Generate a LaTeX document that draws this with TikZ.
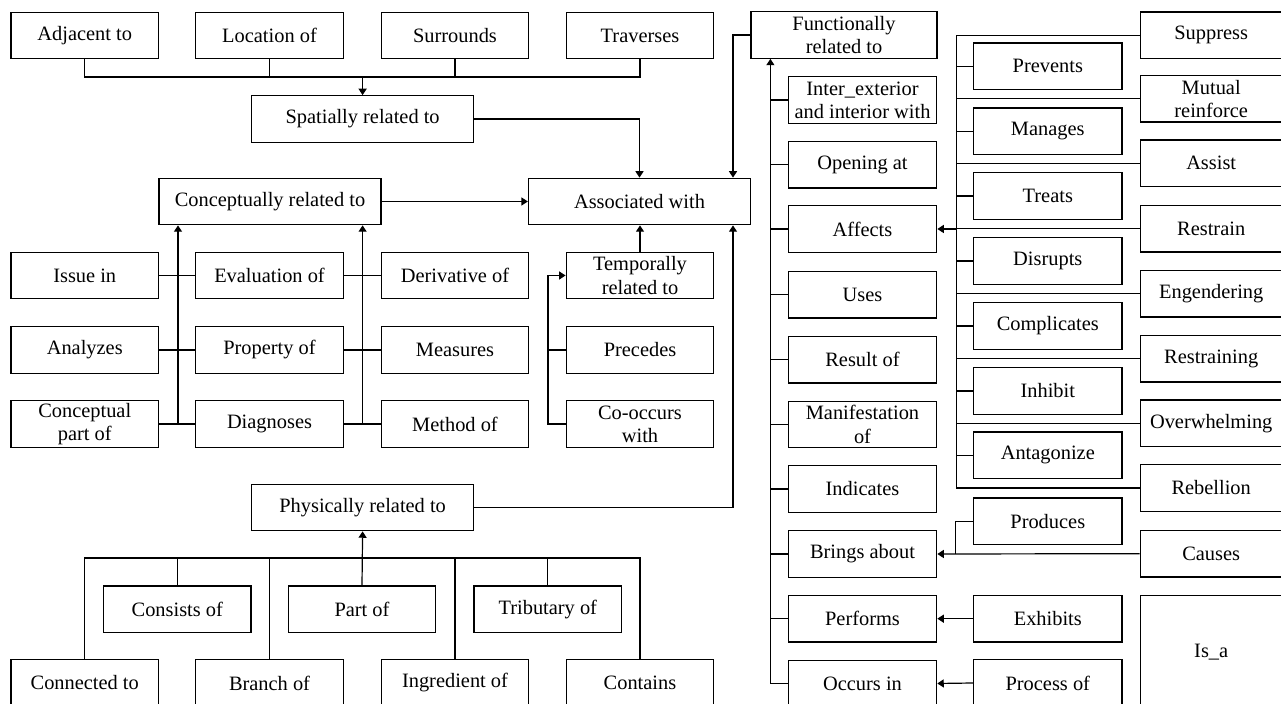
\documentclass[tikz,border=0pt]{standalone}
\usepackage{fontspec}
\setmainfont{Liberation Serif}
\usetikzlibrary{arrows.meta}
\begin{document}
\begin{tikzpicture}[x=0.5pt,y=-0.5pt,
  bx/.style={draw, line width=0.65pt, inner sep=0pt, align=center,
    font=\fontsize{10.2pt}{11.6pt}\selectfont, minimum height=23.2pt},
  gw/.style={bx, minimum width=73.8pt},
  ww/.style={bx, minimum width=111pt},
  fw/.style={bx, minimum width=93pt},
  aw/.style={bx, minimum width=74.2pt},
  cw/.style={bx, minimum width=70.9pt},
  ln/.style={line width=0.6pt},
  ar/.style={ln, -{Triangle[length=3.2pt,width=4pt]}}]
\useasboundingbox (0,0) rectangle (1281,704);
% top row
\node[gw] (adj)  at (84.75,35.5) {Adjacent to};
\node[gw] (loc)  at (269.5,35.5) {Location of};
\node[gw] (sur)  at (455,35.5) {Surrounds};
\node[gw] (trav) at (640,35.5) {Traverses};
\node[fw] (func) at (844,35) {Functionally\\related to};
\node[ww] (spat) at (362.6,119) {Spatially related to};
\node[ww] (concept) at (270,201.5) {Conceptually related to};
\node[ww] (assoc) at (639.5,201.5) {Associated with};
% grid
\node[gw] (issue) at (84.75,275.5) {Issue in};
\node[gw] (eval)  at (269.5,275.5) {Evaluation of};
\node[gw] (deriv) at (455,275.5) {Derivative of};
\node[gw] (temp)  at (640,275.5) {Temporally\\related to};
\node[gw] (analyz) at (84.75,350) {Analyzes};
\node[gw] (prop)   at (269.5,350) {Property of};
\node[gw] (meas)   at (455,350) {Measures};
\node[gw] (prec)   at (640,350) {Precedes};
\node[gw] (cpart)  at (84.75,424) {Conceptual\\part of};
\node[gw] (diag)   at (269.5,424) {Diagnoses};
\node[gw] (meth)   at (455,424) {Method of};
\node[gw] (cooc)   at (640,424) {Co-occurs\\with};
% physical
\node[ww] (phys) at (362.6,507.5) {Physically related to};
\node[gw] (cons) at (177.3,609.3) {Consists of};
\node[gw] (part) at (362,609.3) {Part of};
\node[gw] (trib) at (547.8,609.3) {Tributary of};
\node[gw] (conn) at (84.75,683) {Connected to};
\node[gw] (branch) at (269.5,683) {Branch of};
\node[gw] (ingr) at (455,683) {Ingredient of};
\node[gw] (cont) at (640,683) {Contains};
% column A
\node[aw] (inter) at (862.5,100) {Inter\_exterior\\and interior with};
\node[aw] (open) at (862.5,164.7) {Opening at};
\node[aw] (affects) at (862.5,229) {Affects};
\node[aw] (uses) at (862.5,294.7) {Uses};
\node[aw] (result) at (862.5,359.7) {Result of};
\node[aw] (manif) at (862.5,424.5) {Manifestation\\of};
\node[aw] (indic) at (862.5,489) {Indicates};
\node[aw] (brings) at (862.5,554) {Brings about};
\node[aw] (perf) at (862.5,618.7) {Performs};
\node[aw] (occ) at (862.5,683.5) {Occurs in};
% column B
\node[aw] (prev) at (1047.8,66.3) {Prevents};
\node[aw] (manage) at (1047.8,131.3) {Manages};
\node[aw] (treats) at (1047.8,196) {Treats};
\node[aw] (disr) at (1047.8,261) {Disrupts};
\node[aw] (compl) at (1047.8,326) {Complicates};
\node[aw] (inhib) at (1047.8,391) {Inhibit};
\node[aw] (antag) at (1047.8,455.3) {Antagonize};
\node[aw] (prod) at (1047.8,521.3) {Produces};
\node[aw] (exhib) at (1047.8,618.7) {Exhibits};
\node[aw] (procof) at (1047.8,683) {Process of};
% column C
\node[cw] (supp) at (1211.2,35.3) {Suppress};
\node[cw] (mutual) at (1211.2,98.7) {Mutual\\reinforce};
\node[cw] (assist) at (1211.2,163.3) {Assist};
\node[cw] (restrain) at (1211.2,228.7) {Restrain};
\node[cw] (engend) at (1211.2,293.7) {Engendering};
\node[cw] (restrng) at (1211.2,358.7) {Restraining};
\node[cw] (overwh) at (1211.2,423.3) {Overwhelming};
\node[cw] (rebel) at (1211.2,488) {Rebellion};
\node[cw] (causes) at (1211.2,553.7) {Causes};
\node[cw, minimum height=56pt] (isa) at (1211.2,651.7) {Is\_a};
% coordinates
\coordinate (bus1) at (362.6,77);
\coordinate (fa) at (733,0);
\coordinate (v1) at (178,424);
\coordinate (v2) at (362.6,424);
\coordinate (v3) at (548,424);
\coordinate (bus2) at (362.6,558);
\coordinate (vA) at (770.4,683.5);
\coordinate (vB) at (956.4,0);
\coordinate (vP) at (955.7,0);
% top connectors
\draw[ln] (adj.south) |- (bus1);
\draw[ln] (loc.south) |- (bus1);
\draw[ln] (sur.south) |- (bus1);
\draw[ln] (trav.south) |- (bus1);
\draw[ar] (bus1) -- (spat.north);
\draw[ar] (spat.east) -| (assoc.north);
\draw[ar] (func.west) -| (fa |- assoc.north);
\draw[ar] (concept.east) -- (assoc.west);
% grid connectors
\draw[ar] (v1) -- (v1 |- concept.south);
\draw[ar] (v2) -- (v2 |- concept.south);
\draw[ln] (issue.east) -- (eval.west);
\draw[ln] (analyz.east) -- (prop.west);
\draw[ln] (cpart.east) -- (diag.west);
\draw[ln] (eval.east) -- (deriv.west);
\draw[ln] (prop.east) -- (meas.west);
\draw[ln] (diag.east) -- (meth.west);
\draw[ar] (temp.north) -- (temp.north |- assoc.south);
\draw[ar] (cooc.west) -- (v3) |- (temp.west);
\draw[ln] (prec.west) -- (prec.west -| v3);
% physical connectors
\draw[ar] (phys.east) -| (fa |- assoc.south);
\draw[ln] (conn.north) |- (bus2);
\draw[ln] (cons.north) |- (bus2);
\draw[ln] (branch.north) |- (bus2);
\draw[ln] (ingr.north) |- (bus2);
\draw[ln] (trib.north) |- (bus2);
\draw[ln] (cont.north) |- (bus2);
\draw[ar] (part.north) -- (phys.south);
% column A spine
\draw[ar] (vA) -- (vA |- func.south);
\foreach \n in {inter,open,affects,uses,result,manif,indic,brings,perf,occ}
  \draw[ln] (vA |- \n.west) -- (\n.west);
% bracket B/C
\draw[ln] (supp.west) -- (supp.west -| vB) -- (rebel.west -| vB) -- (rebel.west);
\foreach \n in {mutual,assist,restrain,engend,restrng,overwh}
  \draw[ln] (\n.west) -- (\n.west -| vB);
\foreach \n in {prev,manage,treats,disr,compl,inhib,antag}
  \draw[ln] (\n.west) -- (\n.west -| vB);
\draw[ar] (affects.east -| vB) -- (affects.east);
% lower right
\draw[ar] (causes.west) -- (brings.east);
\draw[ln] (prod.west) -| (vP |- brings.east);
\draw[ar] (exhib.west) -- (perf.east);
\draw[ar] (procof.west) -- (occ.east);
\end{tikzpicture}
\end{document}
